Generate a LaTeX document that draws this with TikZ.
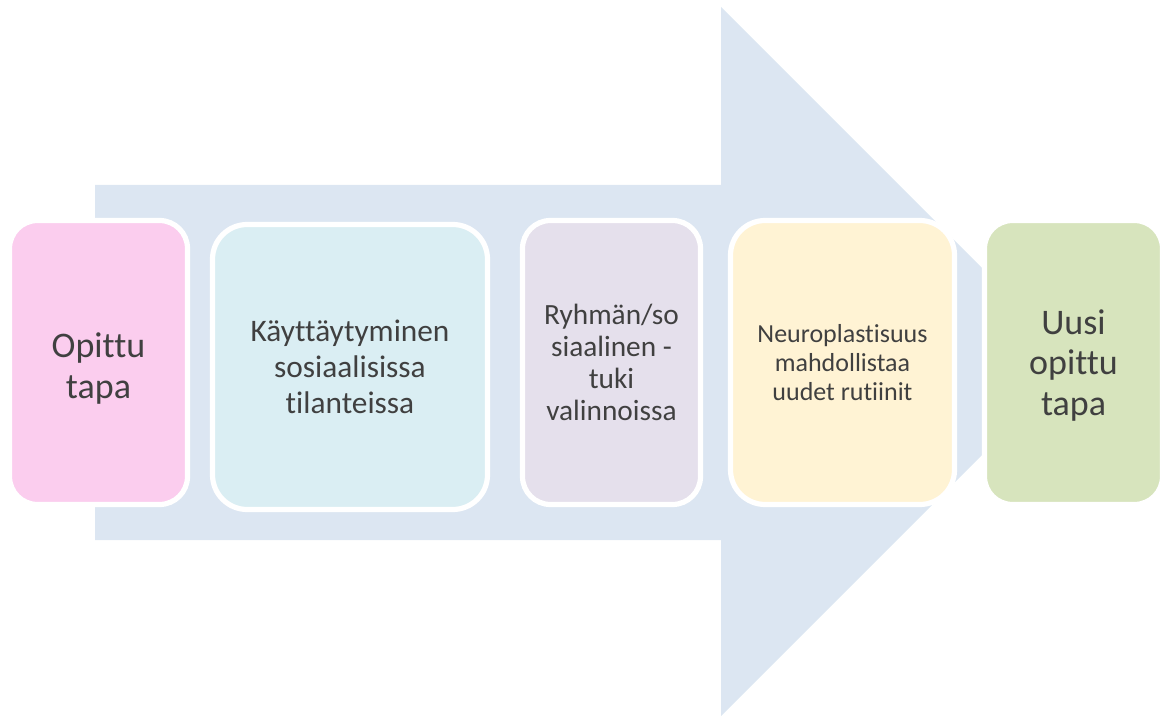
\documentclass[tikz,border=0pt]{standalone}
\usepackage{fontspec}
\setmainfont{Carlito}[Ligatures=NoCommon]
\definecolor{arrowc}{HTML}{DCE6F2}
\definecolor{pinkc}{HTML}{FBCDEE}
\definecolor{bluec}{HTML}{DAEEF3}
\definecolor{lavc}{HTML}{E5E0EC}
\definecolor{yelc}{HTML}{FFF3D4}
\definecolor{grnc}{HTML}{D7E4BD}
\definecolor{txtc}{HTML}{404040}
\begin{document}
\begin{tikzpicture}[x=0.75pt,y=-0.75pt,
  stagebox/.style={draw=white, line width=3.9pt, align=center, text=txtc, inner sep=2pt},
  stagetext/.style={align=center, text=txtc, inner sep=0pt},
  bigtext/.style={font=\fontsize{27}{30.5}\selectfont},
  midtext/.style={font=\fontsize{23.5}{27}\selectfont},
  lavtext/.style={font=\fontsize{22}{24}\selectfont},
  smalltext/.style={font=\fontsize{19.5}{22}\selectfont}]
\useasboundingbox (0,0) rectangle (1164,716);
% big background arrow
\fill[arrowc] (95,185) -- (721,185) -- (721,7) -- (1075.5,361.5) -- (721,716) -- (721,540) -- (95,540) -- cycle;
\node[stagebox, fill=pinkc, minimum width=133.5pt, minimum height=213pt, rounded corners=21pt] (s1) at (98.5,362.5) {};
\node[stagetext, bigtext] (t1) at ([yshift=-4.5pt]s1.center) {Opittu\\tapa};
\node[stagebox, fill=bluec, minimum width=206.25pt, minimum height=213.75pt, rounded corners=26pt, midtext] (s2) at (350,367) {Käyttäytyminen\\sosiaalisissa\\tilanteissa};
\node[stagebox, fill=lavc, minimum width=133.5pt, minimum height=213pt, rounded corners=21pt, lavtext] (s3) at (611.5,362.5) {Ryhmän/so\\siaalinen -\\tuki\\valinnoissa};
\node[stagebox, fill=yelc, minimum width=168pt, minimum height=213pt, rounded corners=26pt, smalltext] (s4) at (842.5,362.5) {Neuroplastisuus\\mahdollistaa\\uudet rutiinit};
\node[stagebox, fill=grnc, minimum width=133.5pt, minimum height=213pt, rounded corners=21pt] (s5) at (1073.5,362.5) {};
\node[stagetext, bigtext] (t5) at ([yshift=-2.2pt]s5.center) {Uusi\\opittu\\tapa};
\end{tikzpicture}
\end{document}
